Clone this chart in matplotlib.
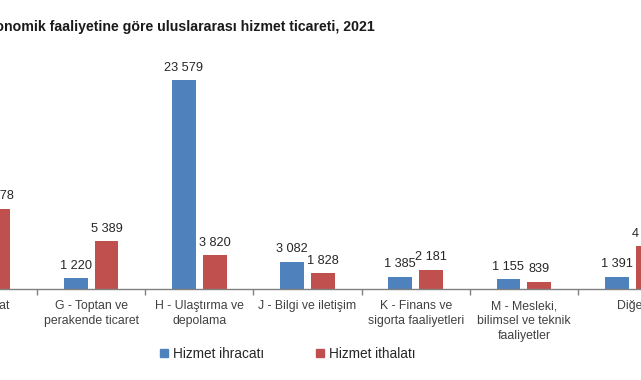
import matplotlib
matplotlib.use("Agg")
import matplotlib.pyplot as plt
import numpy as np
from matplotlib.patches import Patch

plt.rcParams['font.family'] = ['Liberation Sans', 'DejaVu Sans']

categories = ["C - İmalat", "G - Toptan ve\nperakende ticaret", "H - Ulaştırma ve\ndepolama",
              "J - Bilgi ve iletişim", "K - Finans ve\nsigorta faaliyetleri",
              "M - Mesleki,\nbilimsel ve teknik\nfaaliyetler", "Diğer"]
exports = [2100, 1220, 23579, 3082, 1385, 1155, 1391]
imports = [9078, 5389, 3820, 1828, 2181, 839, 4862]
series_names = ["Hizmet ihracatı", "Hizmet ithalatı"]
title = "Ekonomik faaliyetine göre uluslararası hizmet ticareti, 2021"

blue = "#4F81BD"
red = "#C0504D"
W, H = 641, 380
fig = plt.figure(figsize=(W / 100, H / 100), dpi=100)

# axes extends past figure edges (reference is a crop)
left_px, right_px = -71.2, 686.2
bottom_px = 91
height_px = 239.3
ax = fig.add_axes([left_px / W, bottom_px / H, (right_px - left_px) / W, height_px / H])

x = np.arange(len(categories))
bw = 0.22
off = 0.143
ax.bar(x - off, exports, width=bw, color=blue, zorder=2)
ax.bar(x + off, imports, width=bw, color=red, zorder=2)

def fmt(v):
    return f"{v:,}".replace(",", " ")

for xi, v in zip(x, exports):
    ax.annotate(fmt(v), (xi - off, v), xytext=(0, 4.5), textcoords="offset points",
                ha="center", va="bottom", fontsize=9.2, color="#262626")
for xi, v in zip(x, imports):
    ax.annotate(fmt(v), (xi + off, v), xytext=(0, 4.5), textcoords="offset points",
                ha="center", va="bottom", fontsize=9.2, color="#262626")

ax.set_xlim(-0.5, len(categories) - 0.5)
ax.set_ylim(0, 27000)
for s in ["top", "right", "left"]:
    ax.spines[s].set_visible(False)
ax.spines["bottom"].set_color("#808080")
ax.spines["bottom"].set_linewidth(1.0)
ax.set_yticks([])
ax.set_xticks(np.arange(len(categories) + 1) - 0.5)
ax.set_xticklabels([])
ax.tick_params(axis="x", direction="out", length=4, color="#808080", width=1)
ax.set_xticks(x, minor=True)
ax.set_xticklabels(categories, minor=True, fontsize=8.8, color="#404040", linespacing=1.3)
ax.tick_params(axis="x", which="minor", length=0, pad=8)

fig.text(375 / W, 1 - 27 / H, title, ha="right", va="center", fontsize=10.2,
         fontweight="bold", color="#1a1a1a")

handles = [Patch(color=blue), Patch(color=red)]
fig.legend(handles, series_names, loc="center", bbox_to_anchor=(288 / W, 1 - 354 / H),
           ncol=2, frameon=False, fontsize=9.8, handlelength=0.55, handleheight=0.55,
           columnspacing=3.8, handletextpad=0.4, labelcolor="#262626")

fig.savefig("out.png", dpi=100)
